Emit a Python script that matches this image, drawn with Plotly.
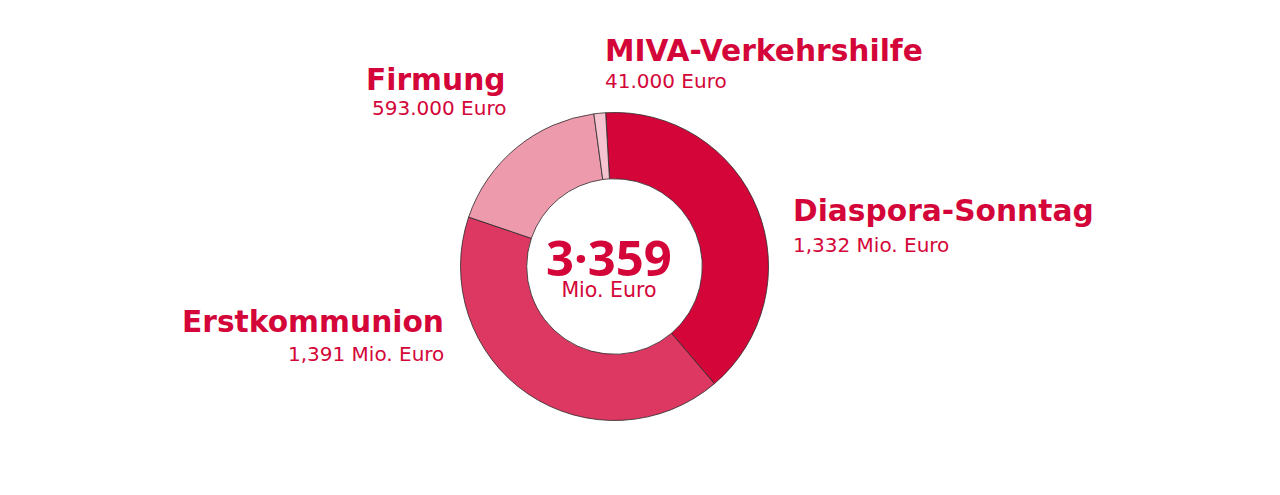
import plotly.graph_objects as go

W, H = 1280, 495
OFF = 8  # page body margin offset

labels = ["Diaspora-Sonntag", "Erstkommunion", "Firmung", "MIVA-Verkehrshilfe"]
values = [1332, 1391, 593, 41]
value_texts = ["1,332 Mio. Euro", "1,391 Mio. Euro", "593.000 Euro", "41.000 Euro"]
colors = ["#D40639", "#DD3861", "#EE9AAD", "#F6C4D0"]
total_text = "3·359"
total_unit = "Mio. Euro"

RED = "#D40639"
TITLE_FONT = "DejaVu Sans"
SUB_FONT = "DejaVu Sans"
CENTER_FONT = "Noto Sans"

cx, cy, r = 614.5 - OFF, 266.5 - OFF, 154

fig = go.Figure(go.Pie(
    labels=labels,
    values=values,
    hole=0.57,
    sort=False,
    direction="clockwise",
    rotation=-3.3,
    marker=dict(colors=colors, line=dict(color="#2a2a2a", width=0.8)),
    textinfo="none",
    hoverinfo="label+value",
    showlegend=False,
    domain=dict(x=[(cx - r) / W, (cx + r) / W], y=[1 - (cy + r) / H, 1 - (cy - r) / H]),
))

def px(x):
    return (x - OFF) / W

def py(y):
    return 1 - (y - OFF) / H

# (label idx, text edge x, anchor, title baseline y, sub baseline y)
placements = [
    (0, 793, "left", 221, 252),
    (1, 444, "right", 332, 361),
    (2, 506, "right", 89.5, 115),
    (3, 605, "left", 60.5, 88),
]

TS, SS = 29.7, 20

annotations = []
for idx, x, anchor, tb, sb in placements:
    ax = x - 2 if anchor == "left" else x + 2
    annotations.append(dict(
        x=px(ax), y=py(tb - 10.3), xref="paper", yref="paper",
        xanchor=anchor, yanchor="middle",
        text="<b>%s</b>" % labels[idx], showarrow=False,
        font=dict(family=TITLE_FONT, size=TS, color=RED),
    ))
    annotations.append(dict(
        x=px(ax), y=py(sb - 6.9), xref="paper", yref="paper",
        xanchor=anchor, yanchor="middle",
        text=value_texts[idx], showarrow=False,
        font=dict(family=SUB_FONT, size=SS, color=RED),
    ))

center_html = (
    "<span style='font-family:\"%s\";font-size:49px;font-weight:bold'>%s</span>"
    "<br><span style='font-size:20.5px'>%s</span>" % (CENTER_FONT, total_text, total_unit)
)
annotations.append(dict(
    x=px(609), y=py(262.7), xref="paper", yref="paper", xanchor="center", yanchor="middle",
    text=center_html, showarrow=False, align="center",
    font=dict(family=SUB_FONT, size=16.2, color=RED),
))

fig.update_layout(
    width=W, height=H,
    margin=dict(l=0, r=0, t=0, b=0),
    paper_bgcolor="white", plot_bgcolor="white",
    annotations=annotations,
)

fig.write_html("out.html")
